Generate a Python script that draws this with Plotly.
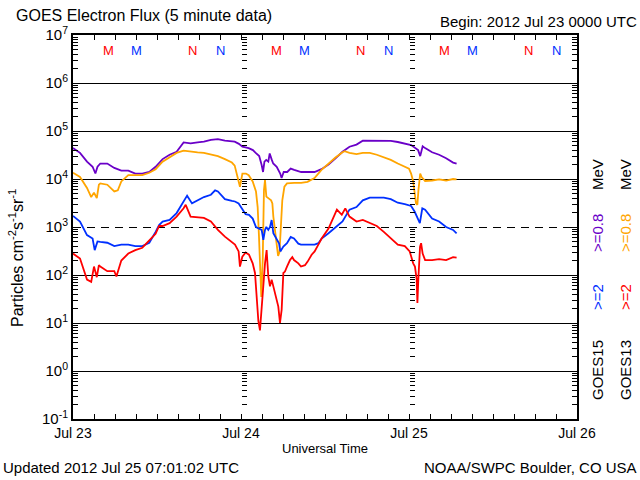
import pandas as pd
import plotly.graph_objects as go

# ---------------- data (hours after 2012-07-23 00:00 UTC, flux in particles/cm2/s/sr) -------------
purple_t = [0, 1.0, 2.0, 2.8, 3.2, 3.5, 3.9, 4.9, 5.9, 6.9,
            7.9, 8.9, 9.9, 10.9, 11.8, 12.8, 13.8, 14.8, 15.8, 16.8,
            17.8, 18.7, 19.7, 20.7, 21.7, 22.7, 23.1, 23.7, 24.2, 25.1,
            25.7, 26.1, 26.6, 26.95, 27.15, 27.35, 27.6, 27.9, 28.1, 28.4,
            28.6, 29.1, 29.6, 29.8, 30.1, 30.6, 31.1, 31.6, 32.6, 33.5,
            34.5, 35.5, 36.5, 37.5, 38.5, 39.5, 40.5, 41.4, 42.4, 43.4,
            44.4, 45.4, 46.4, 47.4, 48.3, 49.3, 49.6, 49.95, 50.3, 51.3,
            52.3, 53.3, 54.3, 54.8]
purple_v = [4.4e4, 3.5e4, 2.3e4, 1.8e4, 1.3e4, 1.8e4, 2.1e4, 2.1e4, 1.7e4, 1.5e4,
            1.5e4, 1.3e4, 1.3e4, 1.4e4, 1.8e4, 2.6e4, 3.2e4, 3.7e4, 5.8e4, 5.5e4,
            5.8e4, 6.0e4, 6.5e4, 6.8e4, 6.3e4, 6.0e4, 6.0e4, 5.4e4, 4.7e4, 4.4e4,
            4.0e4, 3.5e4, 3.0e4, 1.95e4, 1.4e4, 2.3e4, 2.5e4, 2.3e4, 3.4e4, 2.5e4,
            2.1e4, 1.8e4, 1.3e4, 1.05e4, 1.4e4, 1.4e4, 1.65e4, 1.55e4, 1.4e4, 1.4e4,
            1.4e4, 1.6e4, 2.0e4, 2.7e4, 3.7e4, 4.7e4, 5.2e4, 6.3e4, 6.3e4, 6.3e4,
            6.3e4, 6.2e4, 5.9e4, 5.5e4, 5.1e4, 4.0e4, 3.0e4, 4.8e4, 4.4e4, 3.6e4,
            3.2e4, 2.7e4, 2.2e4, 2.1e4]

orange_t = [0, 1.0, 2.0, 2.6, 3.0, 3.4, 3.7, 3.9, 4.9, 5.9,
            6.4, 6.9, 7.9, 8.9, 9.9, 10.9, 11.8, 12.8, 13.8, 14.8,
            15.8, 16.8, 17.8, 18.7, 19.7, 20.7, 21.7, 22.7, 23.1, 23.66,
            23.85, 24.2, 24.7, 25.1, 25.67, 26.14, 26.38, 26.57, 26.76, 26.9,
            27.1, 27.28, 27.43, 27.62, 28.3, 28.48, 28.62, 28.86, 29.1, 29.3,
            29.5, 29.7, 29.9, 30.2, 30.57, 31.6, 32.6, 33.5, 34.5, 35.5,
            36.5, 37.5, 38.5, 38.8, 39.5, 40.5, 41.4, 42.4, 43.4, 44.4,
            45.4, 46.4, 47.4, 48.0, 48.3, 48.6, 49.0, 49.2, 49.35, 49.6,
            49.8, 50.3, 51.3, 52.3, 53.3, 54.3, 54.8]
orange_v = [1.35e4, 1.1e4, 6.5e3, 4.2e3, 5.2e3, 4.0e3, 7.6e3, 8.1e3, 7.6e3, 5.5e3,
            5.8e3, 8.9e3, 1.2e4, 1.2e4, 1.2e4, 1.35e4, 1.6e4, 2.3e4, 2.8e4, 3.5e4,
            3.9e4, 3.7e4, 3.6e4, 3.5e4, 3.3e4, 3.0e4, 2.6e4, 2.2e4, 1.9e4, 8.1e3,
            6.9e3, 1.3e4, 1.3e4, 1.2e4, 8.9e3, 5.5e3, 2.6e3, 630, 125, 35,
            200, 5.9e3, 9.5e3, 4.3e3, 3.6e3, 3.1e3, 1.65e3, 870, 400, 250,
            300, 1.2e3, 3.6e3, 6.9e3, 8.1e3, 8.3e3, 8.3e3, 8.7e3, 1.05e4, 1.55e4,
            2.1e4, 2.8e4, 3.6e4, 3.8e4, 3.5e4, 3.3e4, 3.5e4, 3.5e4, 3.2e4, 2.8e4,
            2.5e4, 2.1e4, 1.85e4, 1.65e4, 1.3e4, 8.9e3, 3.1e3, 2.9e3, 5.9e3, 1.3e4,
            1.1e4, 9.1e3, 9.3e3, 9.8e3, 9.3e3, 1.0e4, 9.8e3]

blue_t = [0, 1.0, 2.0, 2.8, 3.1, 3.5, 3.9, 4.9, 5.9, 6.9,
          7.9, 8.9, 9.9, 10.9, 11.8, 12.3, 12.8, 13.8, 14.8, 15.8,
          16.3, 17.0, 17.8, 18.7, 19.7, 20.3, 20.7, 21.7, 22.7, 23.14,
          23.66, 24.09, 24.66, 25.14, 25.67, 26.14, 26.62, 26.95, 27.19, 27.43,
          27.62, 27.9, 28.14, 28.38, 28.62, 29.1, 29.43, 29.62, 30.05, 30.57,
          31.1, 31.57, 32.19, 32.57, 33.52, 34.52, 35.05, 35.52, 36.5, 37.5,
          38.5, 39.5, 40.5, 41.4, 42.4, 43.4, 44.4, 45.4, 46.4, 47.4,
          48.3, 48.8, 49.3, 49.55, 49.9, 50.3, 51.3, 52.3, 53.3, 54.3,
          54.8]
blue_v = [1.7e3, 1.3e3, 680, 575, 330, 500, 490, 470, 400, 430,
          430, 400, 400, 470, 790, 1.1e3, 1.3e3, 1.4e3, 1.95e3, 3.5e3,
          4.5e3, 3.1e3, 3.6e3, 4.2e3, 4.7e3, 5.8e3, 5.5e3, 3.8e3, 3.5e3, 3.4e3,
          3.1e3, 2.45e3, 1.85e3, 1.8e3, 1.5e3, 1.0e3, 930, 870, 540, 870,
          1.0e3, 870, 1.0e3, 1.4e3, 740, 575, 460, 310, 390, 460,
          620, 575, 450, 430, 430, 430, 460, 575, 740, 1.0e3,
          1.3e3, 2.3e3, 2.6e3, 3.6e3, 4.1e3, 4.1e3, 4.1e3, 3.8e3, 3.2e3, 3.0e3,
          2.75e3, 2.1e3, 1.5e3, 1.2e3, 2.45e3, 2.3e3, 1.5e3, 1.3e3, 1.0e3, 870,
          740]

red_t = [0, 1.0, 2.0, 2.6, 3.0, 3.4, 3.7, 3.9, 4.9, 5.9,
         6.2, 6.9, 7.9, 8.9, 9.9, 10.9, 11.8, 12.3, 12.8, 13.8,
         14.8, 15.8, 16.1, 16.8, 17.8, 18.7, 19.7, 20.7, 21.7, 23.14,
         23.66, 23.85, 24.19, 24.66, 25.14, 25.67, 26.0, 26.24, 26.48, 26.71,
         26.95, 27.19, 27.43, 27.66, 27.9, 28.14, 28.38, 28.62, 28.86, 29.1,
         29.33, 29.57, 29.81, 30.05, 30.28, 30.57, 31.0, 31.33, 31.57, 32.19,
         32.57, 33.14, 33.52, 34.09, 34.52, 35.05, 35.52, 36.5, 37.7, 38.4,
         38.9, 39.5, 40.5, 41.4, 42.4, 43.4, 44.4, 45.4, 46.4, 47.4,
         48.1, 48.6, 48.85, 49.1, 49.2, 49.33, 49.58, 49.73, 49.95, 50.3,
         51.3, 52.3, 53.3, 54.3, 54.8]
red_v = [280, 220, 80, 72, 150, 90, 160, 150, 120, 120,
         93, 200, 280, 330, 370, 540, 720, 1.05e3, 1.05e3, 1.2e3,
         1.65e3, 2.45e3, 2.9e3, 1.65e3, 1.6e3, 1.55e3, 1.3e3, 870, 630, 430,
         310, 150, 240, 295, 265, 175, 110, 42, 11, 7,
         19, 80, 175, 330, 93, 58, 80, 58, 42, 30,
         22, 10, 19, 110, 118, 150, 205, 235, 205, 175,
         150, 160, 190, 265, 310, 430, 575, 930, 2.3e3, 1.8e3,
         2.45e3, 1.65e3, 1.3e3, 1.4e3, 1.2e3, 1.05e3, 790, 575, 430, 400,
         310, 175, 150, 80, 26, 80, 390, 460, 280, 205,
         205, 215, 205, 235, 230]

day_labels = ["Jul 23", "Jul 24", "Jul 25", "Jul 26"]
decade_exps = [-1, 0, 1, 2, 3, 4, 5, 6, 7]
# local midnight (M) / noon (N) in UT hours for each satellite
mn_letters = ["M", "M", "N", "N"]
mn_hours = [5, 9, 17, 21]
mn_sats = ["GOES13", "GOES15", "GOES13", "GOES15"]

# ---------------- styling -------------
FONT = "Liberation Sans"
COL = {"purple": "#6A00C8", "orange": "#FFA500", "blue": "#0030FF", "red": "#FF0000"}
SAT_COL = {"GOES13": "#FF0000", "GOES15": "#0030FF"}
START = pd.Timestamp("2012-07-23 00:00")


def to_time(hours):
    return [START + pd.Timedelta(hours=h) for h in hours]


day_times = [START + pd.Timedelta(days=i) for i in range(len(day_labels))]
decades = [10.0 ** e for e in decade_exps]
minor_vals = [k * 10.0 ** e for e in decade_exps[:-1] for k in range(2, 10)]
solid_decades = [10.0 ** e for e in decade_exps[1:-1] if e != 3]
dashed_decades = [10.0 ** 3]

fig = go.Figure()
series = [
    (purple_t, purple_v, COL["purple"], "y"),
    (orange_t, orange_v, COL["orange"], "y"),
    (blue_t, blue_v, COL["blue"], "y2"),
    (red_t, red_v, COL["red"], "y3"),
]
for t, v, c, ax in series:
    assert len(t) == len(v)
    fig.add_trace(go.Scatter(x=to_time(t), y=v, mode="lines", yaxis=ax,
                             line=dict(color=c, width=1.8), showlegend=False,
                             hoverinfo="skip"))

yrange = [decade_exps[0], decade_exps[-1]]
common_minor = dict(tickmode="array", tickvals=minor_vals, ticks="inside",
                    ticklen=5, tickcolor="black", tickwidth=1, showgrid=False)

fig.update_layout(
    width=640, height=480,
    margin=dict(l=73, r=63, t=35, b=61),
    paper_bgcolor="white", plot_bgcolor="white",
    font=dict(family=FONT, color="black"),
    xaxis=dict(type="date", range=[day_times[0], day_times[-1]],
               tickmode="array", tickvals=day_times, ticktext=day_labels,
               ticks="inside", ticklen=5, tickcolor="black",
               showline=True, linecolor="black", linewidth=2, mirror="allticks",
               showgrid=False, zeroline=False,
               tickfont=dict(size=14, family=FONT, color="black"),
               minor=dict(dtick=3 * 3600 * 1000, tick0=day_times[0], ticks="inside",
                          ticklen=5, tickcolor="black", showgrid=False)),
    yaxis=dict(type="log", range=yrange, tickmode="array", tickvals=decades,
               ticktext=[f"10<sup>{e}</sup>" for e in decade_exps],
               ticks="inside", ticklen=7, tickcolor="black",
               showline=True, linecolor="black", linewidth=2, mirror="allticks",
               showgrid=False, zeroline=False,
               tickfont=dict(size=15, family=FONT, color="black"),
               minor=common_minor),
    yaxis2=dict(type="log", range=yrange, overlaying="y", anchor="free", position=1 / 3,
                tickmode="array", tickvals=solid_decades, ticks="", showticklabels=False,
                showline=False, zeroline=False, showgrid=True,
                gridcolor="black", gridwidth=1.2, minor=common_minor),
    yaxis3=dict(type="log", range=yrange, overlaying="y", anchor="free", position=2 / 3,
                tickmode="array", tickvals=dashed_decades, ticks="", showticklabels=False,
                showline=False, zeroline=False, showgrid=True,
                gridcolor="black", gridwidth=1.2, griddash="8px,6px", minor=common_minor),
)

# plot box in pixels: x 73..577, y 35..419
PX0, PX1, PY0, PY1 = 73, 577, 35, 419


def px(x):
    return (x - PX0) / (PX1 - PX0)


def py(y):
    return (PY1 - y) / (PY1 - PY0)


ann = []
ann.append(dict(text="GOES Electron Flux (5 minute data)", x=px(14), y=py(16),
                xanchor="left", yanchor="middle", font=dict(size=16)))
ann.append(dict(text="Begin: 2012 Jul 23 0000 UTC", x=px(639), y=py(22),
                xanchor="right", yanchor="middle", font=dict(size=15)))
ann.append(dict(text="Updated 2012 Jul 25 07:01:02 UTC", x=px(1), y=py(467),
                xanchor="left", yanchor="middle", font=dict(size=15)))
ann.append(dict(text="NOAA/SWPC Boulder, CO USA", x=px(639), y=py(467),
                xanchor="right", yanchor="middle", font=dict(size=15)))
ann.append(dict(text="Universal Time", x=0.5, y=py(448),
                xanchor="center", yanchor="middle", font=dict(size=13)))
ann.append(dict(text="Particles cm<sup>-2</sup>s<sup>-1</sup>sr<sup>-1</sup>",
                x=px(16), y=py(258), textangle=-90,
                xanchor="center", yanchor="middle", font=dict(size=16)))

# right-hand legend columns (rotated)
legend_cols = [
    ("GOES15", ">=2", ">=0.8", COL["blue"], COL["purple"], 597),
    ("GOES13", ">=2", ">=0.8", COL["red"], COL["orange"], 625),
]
for sat, lo, hi, clo, chi, xc in legend_cols:
    for txt, col, yc in [(sat, "black", 370), (lo, clo, 297), (hi, chi, 233), ("MeV", "black", 175)]:
        ann.append(dict(text=txt, x=px(xc), y=py(yc), textangle=-90,
                        xanchor="center", yanchor="middle",
                        font=dict(size=15, color=col)))

# M / N markers
for d in range(len(day_labels) - 1):
    for letter, hr, sat in zip(mn_letters, mn_hours, mn_sats):
        ann.append(dict(text=letter, x=START + pd.Timedelta(days=d, hours=hr), xref="x",
                        y=py(50), yref="paper", xanchor="center", yanchor="middle",
                        font=dict(size=13, color=SAT_COL[sat])))

for a in ann:
    a.setdefault("xref", "paper")
    a.setdefault("yref", "paper")
    a["showarrow"] = False
    a["font"].setdefault("family", FONT)
    a["font"].setdefault("color", "black")
fig.update_layout(annotations=ann)

# remove the browser's default 8px page margin so the 640x480 figure fills the window
fig.write_html("out.html", config={"displayModeBar": False},
               post_script="document.body.style.margin='0';document.body.style.overflow='hidden';")
